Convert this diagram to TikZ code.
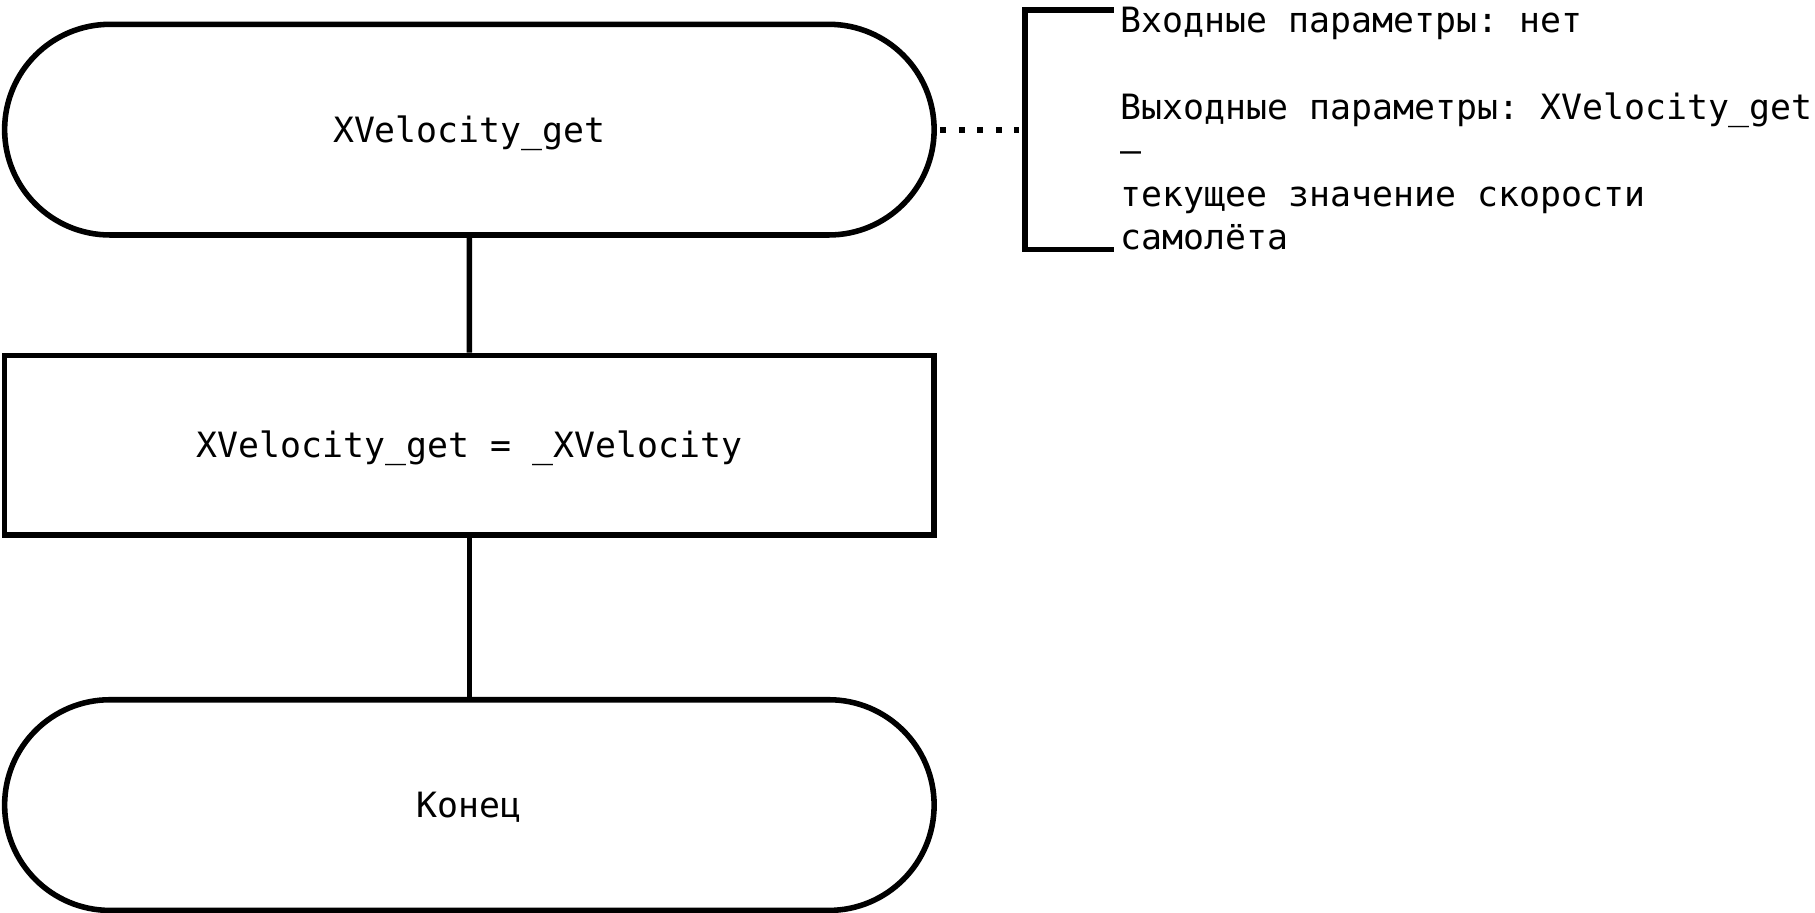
\documentclass[tikz,border=0pt]{standalone}
\usepackage{fontspec}
\setmonofont{DejaVu Sans Mono}
\usetikzlibrary{shapes.misc}
\begin{document}
\begin{tikzpicture}[x=1pt,y=-1pt,
  every node/.style={font=\ttfamily\fontsize{30.1}{37.5}\selectfont},
  shapeline/.style={draw=black,line width=4.8pt,text height=22pt,text depth=0pt},
  terminal/.style={shapeline,rounded rectangle,minimum width=803pt,minimum height=182pt,inner sep=0pt},
  procbox/.style={shapeline,rectangle,minimum width=803pt,minimum height=155pt,inner sep=0pt},
  link/.style={line width=4.6pt},
  dotlink/.style={line width=5pt,dash pattern=on 5pt off 11pt,dash phase=-3pt},
  bracketline/.style={line width=4.8pt}
]
\useasboundingbox (0,0) rectangle (1568,788);
\node[terminal] (start) at (405.5,112) {XVelocity\_get};
\node[procbox] (proc) at (405.5,384.5) {XVelocity\_get = \_XVelocity};
\node[terminal] (stop) at (405.5,695.5) {Конец};
\draw[link] (start) -- (proc);
\draw[link] (proc) -- (stop);
\coordinate (btop) at (962,8.6);
\coordinate (bbot) at (962,215.5);
\coordinate (bmid) at (880,112);
\draw[bracketline] (btop) -- (885.5,8.6) -- (885.5,215.5) -- (bbot);
\draw[dotlink] (start.east) -- (bmid);
\node[anchor=north west,align=left,inner sep=0pt] (note) at (968,6) {Входные параметры: нет\\[37.5pt]Выходные параметры: XVelocity\_get\\–\\текущее значение скорости\\самолёта};
\end{tikzpicture}
\end{document}
